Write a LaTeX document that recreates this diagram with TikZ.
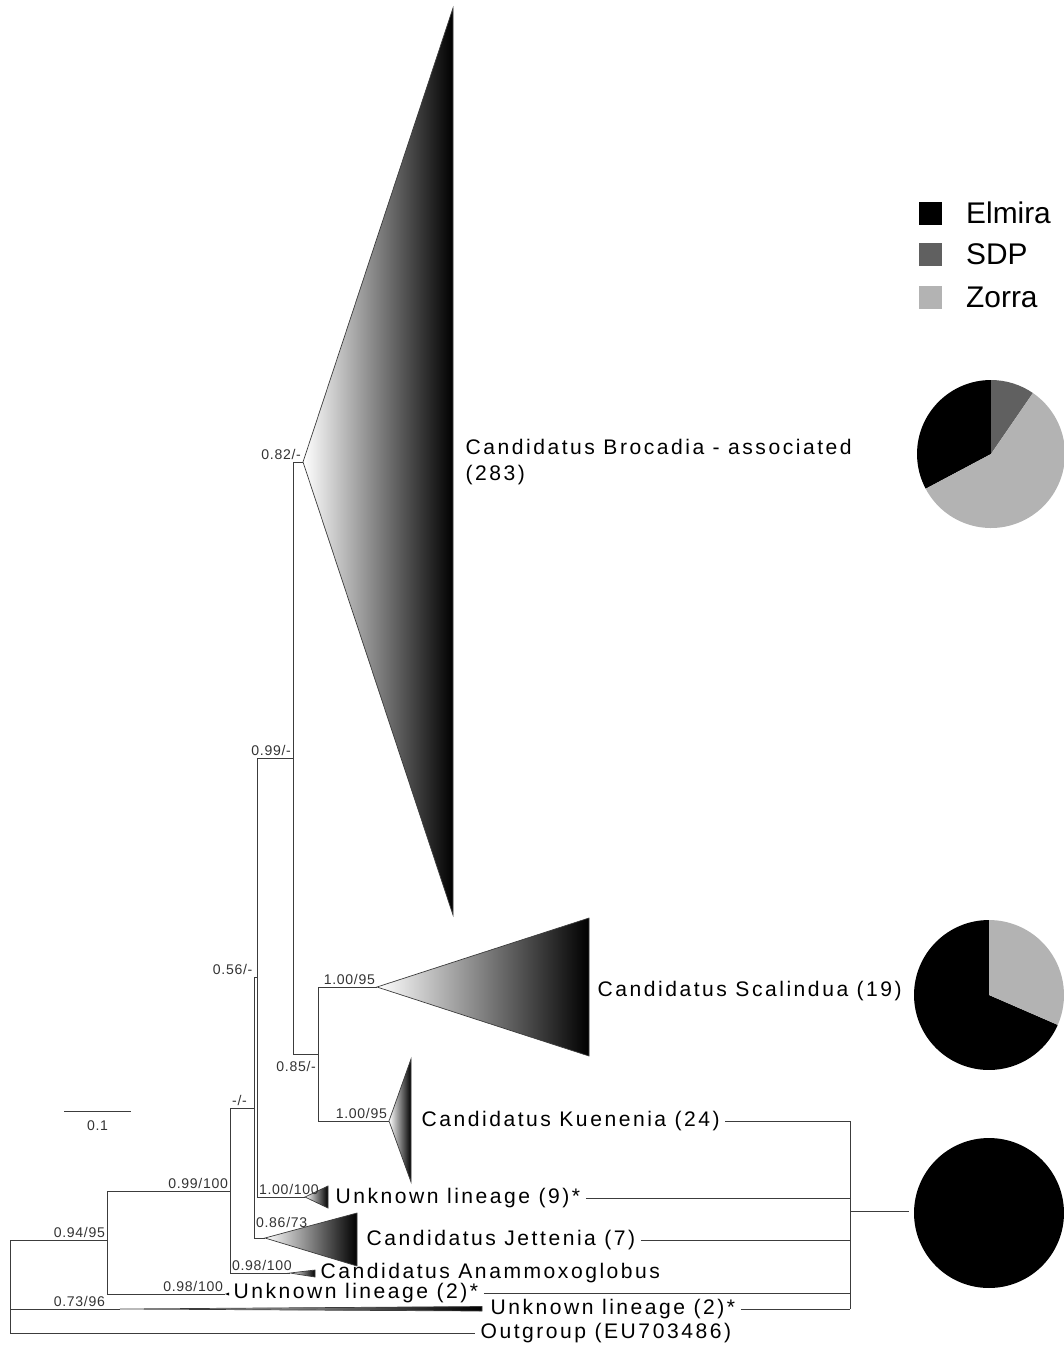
\documentclass[tikz,border=0pt]{standalone}
\usepackage{fontspec}
\usetikzlibrary{positioning}
\newfontfamily\treefont[LetterSpace=12]{Liberation Sans}
\newfontfamily\suppfont[LetterSpace=5]{Liberation Sans}
\newfontfamily\legfont{Liberation Sans}
\definecolor{sdpgray}{HTML}{606060}
\definecolor{zorragray}{HTML}{B3B3B3}
\definecolor{linegray}{HTML}{3C3C3C}

\begin{document}
\begin{tikzpicture}[x=0.02cm,y=-0.02cm,
  branch/.style={draw=linegray,line width=0.5pt},
  clade/.style={left color=white,right color=black,draw=linegray,line width=0.4pt},
  tip/.style={anchor=west,inner sep=3pt,font=\treefont\fontsize{12}{15}\selectfont},
  support/.style={inner sep=1pt,text=black!80,font=\suppfont\fontsize{8}{9}\selectfont},
  legbox/.style={minimum size=0.46cm,inner sep=0pt},
  legtext/.style={inner sep=0pt,font=\legfont\fontsize{17}{20}\selectfont},
  link/.style={draw=linegray,line width=0.5pt}
  ]
  \useasboundingbox (0,0) rectangle (1063,1346);

  % internal nodes of the tree
  \coordinate (root) at (10,1240);
  \coordinate (n94) at (107,1240);
  \coordinate (n99a) at (230,1191);
  \coordinate (nx) at (254,1108);
  \coordinate (n56) at (257,977);
  \coordinate (n99b) at (293,758);
  \coordinate (n85) at (318,1054);

  % collapsed clades
  \coordinate (broA) at (303,462);
  \coordinate (scaA) at (377,987);
  \coordinate (kueA) at (389,1121);
  \coordinate (un9A) at (305,1197);
  \coordinate (jetA) at (265,1238);
  \coordinate (anaA) at (290,1273);
  \coordinate (un2aA) at (225,1294);
  \coordinate (un2bA) at (120,1309);

  \shadedraw[clade] (broA) -- (453,8) -- (453,915) -- cycle;
  \shadedraw[clade] (scaA) -- (589,918) -- (589,1056) -- cycle;
  \shadedraw[clade] (kueA) -- (411,1059) -- (411,1182) -- cycle;
  \shadedraw[clade] (un9A) -- (328,1186) -- (328,1208) -- cycle;
  \shadedraw[clade] (jetA) -- (357,1213) -- (357,1266) -- cycle;
  \shadedraw[clade] (anaA) -- (315,1270) -- (315,1277) -- cycle;
  \shadedraw[clade] (un2bA) -- (482,1306.5) -- (482,1311) -- cycle;
  \fill[black] (un2aA) -- (229,1292.5) -- (229,1295.5) -- cycle;

  \node[tip,align=left] (bro) at (460,462) {Candidatus Brocadia - associated\\(283)};
  \node[tip] (sca) at (592,991) {Candidatus Scalindua (19)};
  \node[tip] (kue) at (416,1121) {Candidatus Kuenenia (24)};
  \node[tip] (un9) at (330,1198) {Unknown lineage (9)*};
  \node[tip] (jet) at (361,1240) {Candidatus Jettenia (7)};
  \node[tip] (ana) at (315,1273) {Candidatus Anammoxoglobus};
  \node[tip] (un2a) at (228,1293) {Unknown lineage (2)*};
  \node[tip] (un2b) at (485,1309) {Unknown lineage (2)*};
  \node[tip] (out) at (475,1333) {Outgroup (EU703486)};

  \draw[branch] (root) |- (n94);
  \draw[branch] (root) |- (un2bA);
  \draw[branch] (root) |- (out.west);
  \draw[branch] (n94) |- (n99a);
  \draw[branch] (n94) |- (un2aA);
  \draw[branch] (n99a) |- (nx);
  \draw[branch] (n99a) |- (anaA);
  \draw[branch] (nx) |- (n56);
  \draw[branch] (nx) |- (jetA);
  \draw[branch] (n56) |- (n99b);
  \draw[branch] (n56) |- (un9A);
  \draw[branch] (n99b) |- (broA);
  \draw[branch] (n99b) |- (n85);
  \draw[branch] (n85) |- (scaA);
  \draw[branch] (n85) |- (kueA);

  % support values
  \node[support,anchor=south east] (s094) at (n94) {0.94/95};
  \node[support,anchor=south east] (s073) at ([xshift=-0.26cm]un2bA) {0.73/96};
  \node[support,anchor=south east] (s099a) at (n99a) {0.99/100};
  \node[support,anchor=south east] (s098b) at (un2aA) {0.98/100};
  \node[support,anchor=south east] (sx) at ([xshift=-0.1cm]nx) {-/-};
  \node[support,anchor=south east] (s056) at ([xshift=-0.05cm]n56) {0.56/-};
  \node[support,anchor=south east] (s099b) at (n99b) {0.99/-};
  \node[support,anchor=south east] (s082) at (broA) {0.82/-};
  \node[support,anchor=north east] (s085) at ([yshift=-0.1cm]n85) {0.85/-};
  \node[support,anchor=south east] (s100a) at (scaA) {1.00/95};
  \node[support,anchor=south east] (s100b) at (kueA) {1.00/95};
  \node[support,anchor=south west] (s100c) at (n56 |- un9A) {1.00/100};
  \node[support,anchor=south west] (s086) at ([yshift=0.16cm]nx |- jetA) {0.86/73};
  \node[support,anchor=south west] (s098a) at (n99a |- anaA) {0.98/100};

  % scale bar
  \coordinate (sbL) at (64,1111);
  \coordinate (sbR) at (131,1111);
  \draw[branch] (sbL) -- (sbR) node[support,midway,below=4pt] (sblab) {0.1};

  % pies
  \coordinate (pieA) at (991,454);
  \coordinate (pieB) at (989,995);
  \node[circle,fill=black,minimum size=3cm,inner sep=0pt] (pieC) at (989,1213) {};

  \fill[black] (pieA) -- ++(90:1.48cm) arc[start angle=90,end angle=208,radius=1.48cm] -- cycle;
  \fill[sdpgray] (pieA) -- ++(55.5:1.48cm) arc[start angle=55.5,end angle=90,radius=1.48cm] -- cycle;
  \fill[zorragray] (pieA) -- ++(-152:1.48cm) arc[start angle=-152,end angle=55.5,radius=1.48cm] -- cycle;

  \fill[black] (pieB) -- ++(90:1.5cm) arc[start angle=90,end angle=336.5,radius=1.5cm] -- cycle;
  \fill[zorragray] (pieB) -- ++(-23.5:1.5cm) arc[start angle=-23.5,end angle=90,radius=1.5cm] -- cycle;

  % lineages pooled into the last pie
  \coordinate (brk) at (850,1211);
  \draw[link] (kue.east) -- (kue.east -| brk);
  \draw[link] (un9.east) -- (un9.east -| brk);
  \draw[link] (jet.east) -- (jet.east -| brk);
  \draw[link] (un2a.east) -- (un2a.east -| brk);
  \draw[link] (un2b.east) -- (un2b.east -| brk);
  \draw[link] (kue.east -| brk) -- (un2b.east -| brk);
  \draw[link,shorten >=0.1cm] (brk) -- (brk -| pieC.west);

  % legend
  \node[legbox,fill=black] (kElm) at (930,213) {};
  \node[legbox,fill=sdpgray] (kSdp) at (930,254) {};
  \node[legbox,fill=zorragray] (kZor) at (930,297) {};
  \node[legtext,right=0.48cm of kElm] (tElm) {Elmira};
  \node[legtext,right=0.48cm of kSdp] (tSdp) {SDP};
  \node[legtext,right=0.48cm of kZor] (tZor) {Zorra};
\end{tikzpicture}
\end{document}
